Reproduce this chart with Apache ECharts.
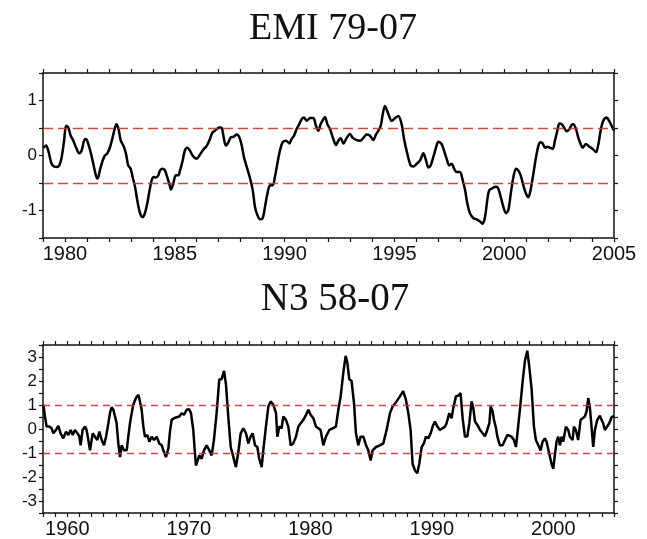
<!DOCTYPE html>
<html>
<head>
<meta charset="utf-8">
<script src="https://cdn.jsdelivr.net/npm/echarts@6/dist/echarts.min.js"></script>
<style>
  html, body { margin: 0; padding: 0; background: #fff; }
  #chart { width: 647px; height: 539px; }
</style>
</head>
<body>
<div id="chart"></div>
<script>
// EMI (top) and Nino-3 (bottom) index time series.

const emiYears = [
  1979.02, 1979.14, 1979.24, 1979.39, 1979.50, 1979.62, 1979.74, 1979.85, 1979.96, 1980.05,
  1980.15, 1980.26, 1980.38, 1980.50, 1980.65, 1980.76, 1980.87, 1980.96, 1981.06, 1981.17,
  1981.29, 1981.41, 1981.49, 1981.59, 1981.72, 1981.82, 1981.93, 1982.05, 1982.17, 1982.28,
  1982.35, 1982.44, 1982.54, 1982.66, 1982.78, 1982.88, 1982.99, 1983.08, 1983.19, 1983.29,
  1983.42, 1983.54, 1983.64, 1983.75, 1983.84, 1983.95, 1984.05, 1984.14, 1984.25, 1984.33,
  1984.45, 1984.55, 1984.63, 1984.75, 1984.83, 1984.93, 1985.05, 1985.16, 1985.24, 1985.36,
  1985.46, 1985.57, 1985.69, 1985.81, 1986.00, 1986.12, 1986.22, 1986.33, 1986.45, 1986.57,
  1986.72, 1986.83, 1986.91, 1987.03, 1987.14, 1987.24, 1987.33, 1987.44, 1987.55, 1987.67,
  1987.82, 1987.94, 1988.05, 1988.15, 1988.28, 1988.43, 1988.55, 1988.65, 1988.76, 1988.88,
  1989.00, 1989.11, 1989.22, 1989.34, 1989.46, 1989.56, 1989.67, 1989.79, 1989.91, 1990.07,
  1990.22, 1990.32, 1990.43, 1990.55, 1990.67, 1990.78, 1990.88, 1991.01, 1991.16, 1991.31,
  1991.43, 1991.54, 1991.64, 1991.77, 1991.84, 1991.95, 1992.07, 1992.22, 1992.34, 1992.45,
  1992.55, 1992.68, 1992.83, 1992.98, 1993.10, 1993.28, 1993.44, 1993.59, 1993.74, 1993.89,
  1994.04, 1994.16, 1994.27, 1994.38, 1994.47, 1994.57, 1994.73, 1994.88, 1995.03, 1995.18,
  1995.33, 1995.44, 1995.59, 1995.74, 1995.86, 1996.02, 1996.17, 1996.32, 1996.44, 1996.55,
  1996.65, 1996.77, 1996.90, 1997.00, 1997.15, 1997.26, 1997.38, 1997.50, 1997.61, 1997.72,
  1997.83, 1997.99, 1998.11, 1998.22, 1998.32, 1998.44, 1998.60, 1998.75, 1998.90, 1999.02,
  1999.13, 1999.23, 1999.32, 1999.48, 1999.63, 1999.73, 1999.84, 1999.96, 2000.08, 2000.19,
  2000.30, 2000.42, 2000.54, 2000.64, 2000.75, 2000.87, 2000.99, 2001.10, 2001.20, 2001.33,
  2001.45, 2001.56, 2001.66, 2001.75, 2001.86, 2001.97, 2002.09, 2002.21, 2002.31, 2002.42,
  2002.51, 2002.62, 2002.72, 2002.85, 2002.97, 2003.07, 2003.15, 2003.27, 2003.37, 2003.48,
  2003.57, 2003.72, 2003.88, 2004.03, 2004.18, 2004.29, 2004.39, 2004.51, 2004.66, 2004.78,
  2004.89, 2005.00
];
const emiValues = [
  0.14, 0.18, 0.09, -0.15, -0.20, -0.21, -0.18, -0.03, 0.27, 0.54,
  0.51, 0.36, 0.27, 0.15, 0.04, 0.09, 0.27, 0.30, 0.21, 0.06,
  -0.15, -0.36, -0.42, -0.27, -0.09, 0.00, 0.04, 0.15, 0.33, 0.51,
  0.57, 0.48, 0.27, 0.18, 0.03, -0.18, -0.24, -0.39, -0.57, -0.81,
  -1.05, -1.12, -1.05, -0.87, -0.66, -0.45, -0.39, -0.40, -0.36, -0.27,
  -0.24, -0.27, -0.36, -0.51, -0.62, -0.51, -0.36, -0.36, -0.27, -0.09,
  0.09, 0.14, 0.09, 0.00, -0.06, 0.00, 0.06, 0.12, 0.17, 0.27,
  0.42, 0.45, 0.48, 0.51, 0.50, 0.30, 0.18, 0.24, 0.33, 0.34,
  0.38, 0.33, 0.18, -0.03, -0.21, -0.42, -0.63, -0.93, -1.08, -1.16,
  -1.14, -0.93, -0.69, -0.54, -0.54, -0.39, -0.15, 0.09, 0.24, 0.27,
  0.22, 0.30, 0.36, 0.48, 0.57, 0.66, 0.69, 0.63, 0.68, 0.68,
  0.54, 0.45, 0.57, 0.66, 0.70, 0.57, 0.48, 0.30, 0.19, 0.27,
  0.32, 0.22, 0.32, 0.39, 0.32, 0.28, 0.27, 0.32, 0.38, 0.36,
  0.28, 0.38, 0.45, 0.54, 0.75, 0.90, 0.75, 0.63, 0.68, 0.72,
  0.57, 0.30, 0.03, -0.18, -0.20, -0.15, -0.09, 0.04, -0.09, -0.22,
  -0.18, -0.03, 0.15, 0.25, 0.21, 0.09, -0.06, -0.18, -0.15, -0.24,
  -0.30, -0.30, -0.45, -0.63, -0.87, -1.05, -1.14, -1.16, -1.20, -1.24,
  -1.11, -0.81, -0.63, -0.59, -0.57, -0.60, -0.75, -0.93, -1.05, -0.99,
  -0.69, -0.39, -0.24, -0.27, -0.36, -0.54, -0.69, -0.76, -0.63, -0.33,
  -0.03, 0.18, 0.24, 0.22, 0.14, 0.16, 0.14, 0.12, 0.27, 0.45,
  0.58, 0.57, 0.51, 0.44, 0.48, 0.56, 0.57, 0.48, 0.33, 0.21,
  0.14, 0.21, 0.16, 0.12, 0.06, 0.21, 0.45, 0.63, 0.69, 0.63,
  0.54, 0.45
];

const n3Years = [
  1958.03, 1958.16, 1958.30, 1958.52, 1958.71, 1958.85, 1959.07, 1959.26, 1959.45, 1959.67,
  1959.89, 1960.09, 1960.28, 1960.44, 1960.63, 1960.83, 1960.99, 1961.10, 1961.26, 1961.46,
  1961.59, 1961.73, 1961.87, 1962.09, 1962.28, 1962.47, 1962.64, 1962.83, 1963.02, 1963.19,
  1963.38, 1963.51, 1963.65, 1963.79, 1963.93, 1964.06, 1964.20, 1964.34, 1964.47, 1964.67,
  1964.89, 1965.02, 1965.16, 1965.30, 1965.43, 1965.65, 1965.85, 1965.98, 1966.12, 1966.26,
  1966.39, 1966.59, 1966.75, 1966.94, 1967.14, 1967.36, 1967.57, 1967.77, 1967.96, 1968.12,
  1968.32, 1968.45, 1968.59, 1968.78, 1969.00, 1969.22, 1969.41, 1969.60, 1969.82, 1970.02,
  1970.18, 1970.37, 1970.51, 1970.59, 1970.73, 1970.87, 1971.06, 1971.25, 1971.47, 1971.69,
  1971.88, 1972.07, 1972.29, 1972.51, 1972.70, 1972.90, 1973.06, 1973.25, 1973.45, 1973.67,
  1973.88, 1974.08, 1974.27, 1974.49, 1974.71, 1974.90, 1975.09, 1975.26, 1975.45, 1975.64,
  1975.80, 1976.00, 1976.13, 1976.35, 1976.55, 1976.74, 1976.96, 1977.18, 1977.29, 1977.45,
  1977.64, 1977.78, 1978.00, 1978.19, 1978.39, 1978.60, 1978.82, 1979.02, 1979.21, 1979.43,
  1979.65, 1979.84, 1980.03, 1980.25, 1980.47, 1980.66, 1980.85, 1981.07, 1981.29, 1981.57,
  1981.84, 1982.11, 1982.31, 1982.50, 1982.72, 1982.91, 1983.05, 1983.21, 1983.40, 1983.60,
  1983.76, 1983.95, 1984.14, 1984.37, 1984.59, 1984.78, 1984.97, 1985.13, 1985.41, 1985.73,
  1986.01, 1986.28, 1986.56, 1986.78, 1987.10, 1987.38, 1987.65, 1987.87, 1988.07, 1988.26,
  1988.42, 1988.62, 1988.81, 1988.97, 1989.17, 1989.35, 1989.52, 1989.71, 1989.91, 1990.07,
  1990.26, 1990.46, 1990.67, 1990.89, 1991.09, 1991.22, 1991.44, 1991.63, 1991.77, 1991.99,
  1992.18, 1992.37, 1992.54, 1992.73, 1992.93, 1993.09, 1993.28, 1993.42, 1993.56, 1993.75,
  1993.97, 1994.19, 1994.38, 1994.57, 1994.74, 1994.85, 1995.01, 1995.12, 1995.29, 1995.40,
  1995.61, 1995.83, 1996.03, 1996.22, 1996.38, 1996.57, 1996.76, 1996.93, 1997.11, 1997.31,
  1997.47, 1997.67, 1997.86, 1998.02, 1998.22, 1998.41, 1998.57, 1998.77, 1998.96, 1999.12,
  1999.31, 1999.45, 1999.67, 1999.86, 2000.00, 2000.13, 2000.27, 2000.41, 2000.55, 2000.69,
  2000.82, 2001.04, 2001.23, 2001.37, 2001.59, 2001.70, 2001.86, 2002.05, 2002.25, 2002.41,
  2002.60, 2002.74, 2002.88, 2003.02, 2003.15, 2003.29, 2003.43, 2003.62, 2003.84, 2003.98,
  2004.11, 2004.25, 2004.39, 2004.61, 2004.80, 2005.00
];
const n3Values = [
  1.01, 0.52, 0.10, 0.10, 0.03, -0.18, -0.04, 0.13, -0.18, -0.39,
  -0.11, -0.25, -0.04, -0.25, -0.04, -0.18, -0.30, -0.68, -0.04, 0.10,
  -0.04, -0.46, -0.89, -0.18, -0.32, -0.46, -0.11, -0.46, -0.68, -0.32,
  0.24, 0.66, 0.91, 0.80, 0.80, 0.24, -0.60, -1.17, -0.68, -0.89,
  -0.89, -0.32, 0.24, 0.66, 1.01, 1.29, 1.43, 1.15, 0.80, 0.10,
  -0.32, -0.25, -0.53, -0.32, -0.46, -0.32, -0.60, -0.68, -0.96, -1.17,
  -0.82, -0.11, 0.38, 0.45, 0.49, 0.52, 0.66, 0.59, 0.80, 0.83,
  0.66, -0.04, -1.03, -1.52, -1.31, -1.10, -1.24, -0.89, -0.68, -0.89,
  -1.10, -0.46, 0.66, 2.07, 2.07, 2.42, 1.86, 0.52, -0.75, -1.17,
  -1.59, -0.96, -0.18, 0.03, -0.18, -0.60, -0.32, -0.18, -0.68, -0.75,
  -1.24, -1.59, -0.89, 0.10, 0.94, 1.15, 1.01, 0.66, -0.32, 0.10,
  0.03, 0.52, 0.38, 0.10, -0.68, -0.60, -0.32, 0.10, 0.24, 0.38,
  0.59, 0.80, 0.59, 0.45, 0.10, 0.03, -0.04, -0.68, -0.32, -0.04,
  0.03, 0.10, 0.80, 1.36, 2.35, 3.05, 2.77, 2.07, 2.00, 1.08,
  -0.18, -0.68, -0.32, -0.32, -0.68, -0.89, -1.31, -0.89, -0.75, -0.68,
  -0.60, -0.04, 0.66, 0.94, 1.15, 1.36, 1.58, 1.22, 0.66, -0.04,
  -1.45, -1.73, -1.84, -1.45, -0.75, -0.60, -0.32, -0.39, -0.18, 0.10,
  0.31, 0.10, -0.04, 0.03, 0.10, 0.24, 0.66, 0.45, 0.87, 1.36,
  1.39, 1.50, 0.45, -0.32, -0.30, 0.24, 1.15, 0.87, 0.31, 0.17,
  -0.04, -0.18, -0.30, -0.04, 0.24, 0.94, 0.73, 0.38, 0.03, -0.32,
  -0.68, -0.68, -0.46, -0.25, -0.18, -0.32, -0.46, -0.75, 0.10, 1.08,
  1.93, 2.84, 3.26, 2.63, 1.65, 0.10, -0.46, -0.68, -0.89, -0.53,
  -0.39, -0.53, -1.03, -1.45, -1.66, -1.10, -0.53, -0.32, -0.68, -0.32,
  -0.53, 0.10, -0.04, -0.32, -0.46, 0.10, -0.04, -0.46, 0.38, 0.45,
  0.52, 0.73, 1.29, 0.87, 0.10, -0.75, -0.04, 0.38, 0.55, 0.38,
  0.24, -0.04, -0.11, 0.24, 0.49, 0.55
];

const emiThresholds = [-0.5, 0.5];
const n3Thresholds = [-1, 1];
const titles = ['EMI 79-07', 'N3 58-07'];

const SANS = '"Liberation Sans", Arial, Helvetica, sans-serif';
const SERIF = '"Liberation Serif", "Times New Roman", serif';
const FRAME = { show: true, onZero: false, lineStyle: { color: '#111', width: 1.5 } };
const TICK = { show: true, length: 4, lineStyle: { color: '#111', width: 1.2 } };

function xAxes(grid, min, max, labelEvery) {
  return [
    { type: 'value', gridIndex: grid, min, max, interval: 1, position: 'bottom',
      axisLine: FRAME, axisTick: TICK, splitLine: { show: false },
      axisLabel: { margin: 6, color: '#111', fontFamily: SANS, fontSize: 20,
        formatter: (v) => (Math.round(v) % labelEvery === 0 ? String(Math.round(v)) : '') } },
    { type: 'value', gridIndex: grid, min, max, interval: 1, position: 'top',
      axisLine: FRAME, axisTick: TICK, splitLine: { show: false },
      axisLabel: { show: false } },
  ];
}

function yAxes(grid, min, max) {
  return [
    { type: 'value', gridIndex: grid, min, max, interval: 0.5, position: 'left',
      axisLine: FRAME, axisTick: TICK, splitLine: { show: false },
      axisLabel: { margin: 6, color: '#111', fontFamily: SANS, fontSize: 17,
        formatter: (v) => (Number.isInteger(v) ? String(v) : '') } },
    { type: 'value', gridIndex: grid, min, max, interval: 0.5, position: 'right',
      axisLine: FRAME, axisTick: TICK, splitLine: { show: false },
      axisLabel: { show: false } },
  ];
}

function lineSeries(xi, yi, xs, ys, width, smooth, thresholds, dash) {
  return {
    type: 'line', xAxisIndex: xi, yAxisIndex: yi,
    data: xs.map((x, i) => [x, ys[i]]),
    showSymbol: false, smooth, clip: true,
    lineStyle: { color: '#000', width },
    markLine: {
      silent: true, symbol: 'none', label: { show: false },
      lineStyle: { color: '#c0392b', width: 1.4, type: dash, opacity: 0.9 },
      data: thresholds.map(t => ({ yAxis: t })),
    },
    z: 3,
  };
}

const chart = echarts.init(document.getElementById('chart'), null, { renderer: 'canvas' });
chart.setOption({
  backgroundColor: '#fff',
  animation: false,
  title: [
    { text: titles[0], left: 328, top: 5, textAlign: 'center',
      textStyle: { fontFamily: SERIF, fontSize: 38, fontWeight: 'normal', color: '#111' } },
    { text: titles[1], left: 330, top: 275, textAlign: 'center',
      textStyle: { fontFamily: SERIF, fontSize: 39, fontWeight: 'normal', color: '#111' } },
  ],
  grid: [
    { left: 43, right: 33, top: 73, height: 165 },
    { left: 43, right: 33, top: 345, height: 168 },
  ],
  xAxis: [...xAxes(0, 1979, 2005, 5), ...xAxes(1, 1958, 2005, 10)],
  yAxis: [...yAxes(0, -1.5, 1.5), ...yAxes(1, -3.5, 3.5)],
  series: [
    lineSeries(0, 0, emiYears, emiValues, 2.5, 0.3, emiThresholds, [10, 5]),
    lineSeries(2, 2, n3Years, n3Values, 2.5, false, n3Thresholds, [7, 5]),
  ],
});
</script>
</body>
</html>
